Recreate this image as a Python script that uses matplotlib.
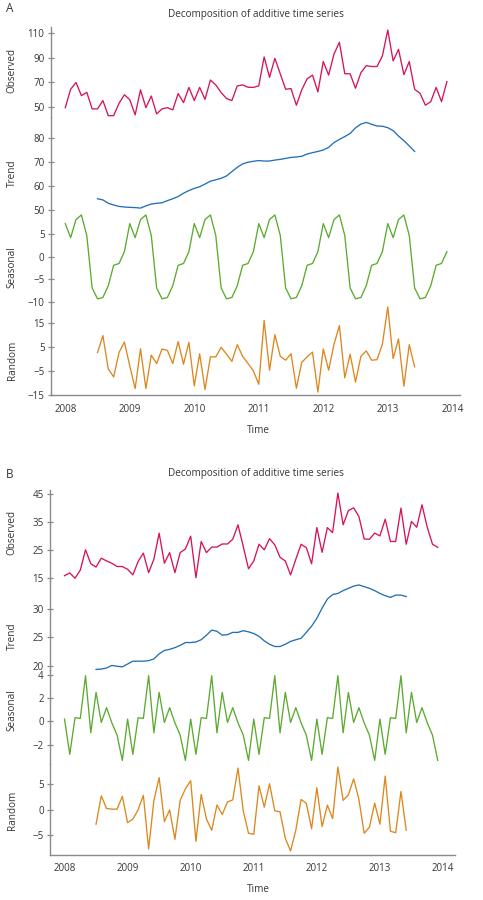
import matplotlib
matplotlib.use('Agg')
import matplotlib.pyplot as plt
import numpy as np

plt.rcParams['font.family'] = ['Open Sans', 'DejaVu Sans']
plt.rcParams['axes.unicode_minus'] = True

# ---- colours ----
COLORS = {
    'observed': '#d6135c',
    'trend': '#2270b5',
    'seasonal': '#5caa30',
    'random': '#dd871e',
    'axis': '#8a8a8a',
    'text': '#363636',
}

# ---- data, panel A (monthly, 2008-01 .. 2013-12) ----
obs_a = [49.5, 64.5, 70, 59.3, 62, 48.5, 48.5, 55.3, 43, 43, 53, 60,
         56, 43.6, 64, 49.5, 59, 44.4, 48.5, 49.5, 47.7, 61, 53.6, 66,
         55.3, 66, 56.3, 72, 68, 61.8, 56.9, 55.3, 67.2, 68, 66.1, 66,
         67.2, 90.8, 74.2, 89.7, 77, 64.5, 65, 51.5, 64, 73, 76, 62.3,
         87, 76, 93.2, 102.7, 77.2, 77, 65.3, 78, 83.7, 83, 83, 91.6,
         112.7, 87.5, 97, 76.4, 87, 64.5, 61.2, 51.5, 54.4, 66, 54.4, 70.7]
trend_a = [54.7, 54.2, 52.8, 52.1, 51.5, 51.25, 51.1, 51, 50.8, 51.7,
           52.5, 52.8, 53, 53.9, 54.7, 55.6, 57, 58.1, 59, 59.7,
           60.8, 62, 62.6, 63.2, 64.2, 66, 67.8, 69.2, 69.9, 70.3,
           70.6, 70.4, 70.4, 70.8, 71.1, 71.5, 71.9, 72.1, 72.4, 73.3,
           73.9, 74.4, 75, 76.1, 78.1, 79.4, 80.6, 81.9, 84.2, 85.8,
           86.5, 85.7, 85, 84.9, 84.3, 83.1, 80.8, 78.9, 76.7, 74.4]
season_a = [7.3, 4.2, 8.2, 9.2, 4.7, -6.9, -9.3, -9.0, -6.4, -1.9, -1.5, 1.1]
random_a = [2.8, 9.9, -4.1, -7.4, 2.8, 7.2, -2.8, -12.3, 4.4, -12.3,
            1.7, -1.8, 4.3, 3.7, -1.8, 7.4, -2.1, 7.1, -11.2, 2.3,
            -12.7, 1, 1, 5, 2.1, -0.9, 6.1, 1.2, -1.8, -4.9,
            -10.5, 16.3, -4.6, 10.3, 1.2, -0.4, 2.3, -12.2, -1.3, 1,
            3, -13.8, 4.3, -4.6, 6.3, 14.1, -7.8, 2.1, -9.6, 1.2,
            3.5, -0.4, -0.2, 6.3, 21.9, 0.3, 8.5, -11.3, 6.1, -3.2]

# ---- data, panel B ----
obs_b = [15.7, 16.7, 14.8, 17.7, 25, 20, 18.8, 22, 21, 20.2, 19, 19,
         18, 16, 20.8, 23.8, 16.8, 21.6, 31, 20.2, 24, 16.8, 24, 25.3,
         29.9, 15, 28, 24, 26, 26, 27.1, 27.1, 28.8, 34, 26.2, 18.2,
         21, 27, 25, 29, 26.8, 22.3, 21, 16, 21.6, 27, 25.8, 20,
         33, 24.1, 33, 31.2, 45.4, 34, 39.1, 40.1, 37, 28.9, 28.8, 31,
         30, 36, 28, 28, 40, 27, 35.2, 33.1, 41.2, 33.1, 27, 25.9]
trend_b = [19.35, 19.4, 19.6, 20.05, 19.9, 19.8, 20.3, 20.8, 20.8, 20.8,
           20.9, 21.2, 22.1, 22.7, 22.9, 23.2, 23.6, 24.1, 24.1, 24.2,
           24.6, 25.4, 26.3, 26.1, 25.4, 25.5, 25.9, 25.9, 26.2, 26,
           25.7, 25.2, 24.4, 23.8, 23.4, 23.4, 23.8, 24.3, 24.6, 24.85,
           25.9, 27, 28.4, 30.2, 31.8, 32.6, 32.8, 33.3, 33.7, 34.1,
           34.3, 34, 33.7, 33.3, 32.8, 32.4, 32.1, 32.5, 32.5, 32.25]
season_b = [0.2, -2.83, 0.32, 0.26, 3.93, -0.98, 2.5, -0.09, 1.18, -0.12, -1.18, -3.35]
random_b = [-2.9, 2.7, 0.2, 0.07, 0.07, 2.6, -2.6, -1.9, -0.07, 2.8,
            -7.8, 1.8, 6.3, -2.4, -0.07, -5.9, 1.8, 4.1, 5.7, -6.3,
            3, -1.9, -4.1, 0.9, -1, 1.5, 1.9, 8.2, -0.26, -4.7,
            -4.9, 4.7, 0.46, 5.1, -0.26, -0.46, -5.7, -8.2, -4.1, 2,
            1.2, -3.8, 4.3, -3.4, 0.86, -1.8, 8.4, 1.8, 2.9, 6.05,
            2, -4.7, -3.5, 1.25, -2.9, 6.6, -4.3, -4.6, 3.55, -4.1]

year_ticks = [2008, 2009, 2010, 2011, 2012, 2013, 2014]
t_full = 2008 + np.arange(72) / 12.0
t_mid = 2008.5 + np.arange(60) / 12.0

W, H = 483, 900
fig = plt.figure(figsize=(W / 100, H / 100), dpi=100)


def px_axes(x0, x1, y0, y1):
    # axes from pixel box (y measured from top)
    return fig.add_axes([x0 / W, 1 - y1 / H, (x1 - x0) / W, (y1 - y0) / H])


def draw_panel(letter, rows, xlim, xpx, ylabel_y, title_y, letter_y, time_y, pad_x):
    axes = []
    n = len(rows)
    for i, (y0, y1, ylim, ticks, x, y, color) in enumerate(rows):
        ax = px_axes(xpx[0], xpx[1], y0, y1)
        ax.patch.set_alpha(0)
        ax.plot(x, y, color=color, linewidth=0.95, clip_on=False)
        ax.set_xlim(*xlim)
        ax.set_ylim(*ylim)
        for s in ['top', 'right']:
            ax.spines[s].set_visible(False)
        ax.spines['left'].set_color(COLORS['axis'])
        ax.spines['left'].set_linewidth(1.0)
        ax.set_yticks(ticks)
        ax.tick_params(axis='y', direction='inout', length=5, width=0.9,
                       color=COLORS['axis'], labelsize=7, labelcolor=COLORS['text'], pad=2)
        if i == n - 1:
            ax.spines['bottom'].set_color(COLORS['axis'])
            ax.spines['bottom'].set_linewidth(1.0)
            ax.set_xticks(year_ticks)
            ax.set_xticklabels([str(v) for v in year_ticks])
            ax.tick_params(axis='x', length=0, labelsize=7,
                           labelcolor=COLORS['text'], pad=pad_x)
        else:
            ax.spines['bottom'].set_visible(False)
            ax.set_xticks([])
        axes.append(ax)

    names = ['Observed', 'Trend', 'Seasonal', 'Random']
    for name, yy in zip(names, ylabel_y):
        fig.text(12 / W, 1 - yy / H, name, rotation=90, ha='center', va='center',
                 fontsize=7.2, color=COLORS['text'])
    fig.text(256 / W, 1 - title_y / H, 'Decomposition of additive time series',
             ha='center', va='center', fontsize=7.2, color=COLORS['text'])
    fig.text(10 / W, 1 - letter_y / H, letter, ha='center', va='center',
             fontsize=8.5, color=COLORS['text'])
    fig.text(258 / W, 1 - time_y / H, 'Time', ha='center', va='center',
             fontsize=7.2, color=COLORS['text'])
    return axes


# Panel A
rows_a = [
    (26.7, 117, (41.9, 115.4), [50, 70, 90, 110], t_full, obs_a, COLORS['observed']),
    (117, 210, (50, 88.75), [50, 60, 70, 80], t_mid, trend_a, COLORS['trend']),
    (210, 302, (-10, 10.3), [-10, -5, 0, 5], t_full, season_a * 6, COLORS['seasonal']),
    (302, 395, (-15, 24), [-15, -5, 5, 15], t_mid, random_a, COLORS['random']),
]
draw_panel('A', rows_a, (2007.774, 2014.12), (50.7, 460),
           [70, 173, 267, 360], 14, 8, 430, 6.5)

# Panel B
rows_b = [
    (490, 581, (13.8, 46.5), [15, 25, 35, 45], t_full, obs_b, COLORS['observed']),
    (581, 670, (19.24, 35.0), [20, 25, 30], t_mid, trend_b, COLORS['trend']),
    (670, 764, (-3.66, 4.42), [-2, 0, 2, 4], t_full, season_b * 6, COLORS['seasonal']),
    (764, 855, (-9.0, 9.0), [-5, 0, 5], t_mid, random_b, COLORS['random']),
]
draw_panel('B', rows_b, (2007.77, 2014.19), (50, 455),
           [532, 636, 710, 810], 474, 475, 890, 6)

fig.savefig('out.png', dpi=100, facecolor='white')
